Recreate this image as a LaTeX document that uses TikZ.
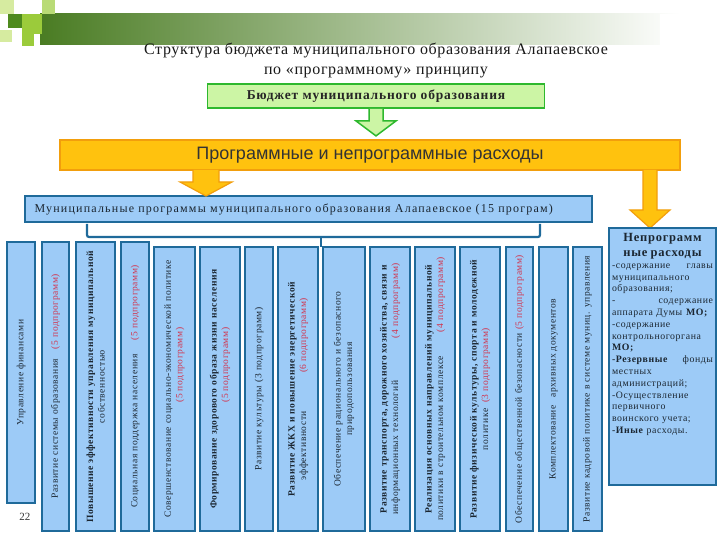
\documentclass[tikz,border=0pt]{standalone}
\usepackage{fontspec}
\setmainfont{Liberation Serif}
\newfontfamily\sansf{Liberation Sans}
\newfontfamily\colf[LetterSpace=6]{Liberation Serif}
\newfontfamily\widef[LetterSpace=10]{Liberation Serif}
\newfontfamily\titlef[LetterSpace=4]{Liberation Serif}
\usetikzlibrary{calc}
\definecolor{hdrgreen}{HTML}{4A7C23}
\definecolor{lime}{HTML}{9BCB3B}
\definecolor{palelime}{HTML}{D6EBA0}
\definecolor{darkgr}{HTML}{4E8A1E}
\definecolor{txt}{HTML}{1B2631}
\definecolor{colfill}{HTML}{9DCBF7}
\definecolor{colline}{HTML}{1F6A9A}
\definecolor{redtxt}{HTML}{D2334D}
\definecolor{greenfill}{HTML}{CCF5A5}
\definecolor{greenline}{HTML}{2EB82E}
\definecolor{orfill}{HTML}{FFC20E}
\definecolor{orline}{HTML}{F29E0C}
\newcommand{\rd}[1]{{\color{redtxt}#1}}
\begin{document}
\begin{tikzpicture}[x=1pt,y=-1pt,
  colbox/.style={draw=colline, fill=colfill, line width=1.8pt, inner sep=2pt, text=txt,
     font=\colf\fontsize{9.5}{11.5}\selectfont, align=center},
  vcol/.style={colbox, rotate=90},
  greenbox/.style={draw=greenline, fill=greenfill, line width=1.8pt, font=\colf\bfseries\fontsize{13.5}{15}\selectfont, text=black!85},
  greenarrow/.style={draw=greenline, fill=greenfill, line width=1.5pt, line join=miter},
  orbar/.style={draw=orline, fill=orfill, line width=1.8pt, font=\sansf\fontsize{18}{20}\selectfont, text=black!80},
  orarrow/.style={draw=orline, fill=orfill, line width=1.2pt, line join=miter},
  bracket/.style={draw=colline, line width=2.2pt, rounded corners=2pt},
  titlestyle/.style={font=\titlef\fontsize{16}{19}\selectfont, text=black!90}
]
\useasboundingbox (0,0) rectangle (720,540);
\fill[white] (0,0) rectangle (720,540);
% header decoration
\shade[left color=hdrgreen, right color=white] (40,14) rectangle (680,45);
\fill[white] (660,14) rectangle (720,45);
\fill[palelime] (0,0) rectangle (14,14);
\fill[darkgr] (8,14) rectangle (22,28);
\fill[lime] (22,14) rectangle (42,34);
\fill[lime!70] (42,0) rectangle (55,14);
\fill[lime] (22,34) rectangle (34,46);
\fill[palelime] (0,30) rectangle (12,42);
% title
\node[titlestyle] (title1) at (376,51) {Структура бюджета муниципального образования Алапаевское};
\node[titlestyle] (title2) at (376,72) {по «программному» принципу};
% budget box
\node[greenbox, minimum width=337, minimum height=24, inner sep=0] (budget) at (376,96) {Бюджет муниципального образования};
% green arrow
\draw[greenarrow] ($(budget.south)+(-7,0)$) -- ++(0,12) -- ++(-13,0) -- ($(budget.south)+(0,27)$) -- ++(20,-15) -- ++(-13,0) -- ++(0,-12);
% orange bar
\node[orbar, minimum width=620, minimum height=30, inner sep=0] (bar) at (370,155) {Программные и непрограммные расходы};
% blue programme box
\node[colbox, minimum width=567, minimum height=26, inner sep=0] (prog) at (308.5,209) {};
\node[anchor=west, text=txt, font=\widef\fontsize{12}{14}\selectfont] (progtxt) at (31,209) {Муниципальные программы муниципального образования Алапаевское (15 програм)};
% orange arrows
\draw[orarrow] (193,170) -- (193,182) -- (180,182) -- (206,196) -- (232,182) -- (219,182) -- (219,170);
\draw[orarrow] (643,170) -- (643,210) -- (630,210) -- (650,228) -- (670,210) -- (657,210) -- (657,170);
% bracket
\coordinate (bl) at (87,224);
\coordinate (br) at (540,224);
\coordinate (bm) at (321,237);
\coordinate (bt) at (321,247);
\draw[bracket] (bl) -- (87,237) -- (540,237) -- (br);
\draw[colline, line width=2.2pt] (bm) -- (bt);
% columns
\node[vcol, minimum width=261, minimum height=28, text width=250] (c1) at (21,372.5) {Управление финансами};
\node[vcol, minimum width=289, minimum height=27, text width=278] (c2) at (55.5,386.5) {Развитие системы образования\hspace{1em}\rd{(5 подпрограмм)}};
\node[vcol, minimum width=289, minimum height=39, text width=278] (c3) at (95.5,386.5) {\textbf{Повышение эффективности управления муниципальной}\\собственностью};
\node[vcol, minimum width=289, minimum height=28, text width=278] (c4) at (135,386.5) {Социальная поддержка населения\hspace{1.5em}\rd{(5 подпрограмм)}};
\node[vcol, minimum width=284, minimum height=41, text width=273] (c5) at (174.5,389) {Совершенствование социально-экономической политике\\\hspace*{5em}\rd{(5 подпрограмм)}};
\node[vcol, minimum width=284, minimum height=40, text width=273] (c6) at (220,389) {\textbf{Формирование здорового образа жизни населения}\\\hspace*{5em}\rd{(5 подпрограмм)}};
\node[vcol, minimum width=284, minimum height=28, text width=273] (c7) at (259,389) {Развитие культуры (3 подпрограмм)};
\node[vcol, minimum width=284, minimum height=40, text width=273] (c8) at (298,389) {\textbf{Развитие ЖКХ и повышение энергетической}\\эффективности\hspace{4em}\rd{(6 подпрограмм)}};
\node[vcol, minimum width=284, minimum height=42, text width=273] (c9) at (344,389) {Обеспечение рационального и безопасного\\природопользования};
\node[vcol, minimum width=284, minimum height=40, text width=273] (c10) at (390,389) {\textbf{Развитие транспорта, дорожного хозяйства, связи и}\\информационных технологий\hspace{4.5em}\rd{(4 подпрограмм)}};
\node[vcol, minimum width=284, minimum height=40, text width=273] (c11) at (435,389) {\textbf{Реализация основных направлений муниципальной}\\политики в строительном комплексе\hspace{2.5em}\rd{(4 подпрограмм)}};
\node[vcol, minimum width=284, minimum height=40, text width=273] (c12) at (480,389) {\textbf{Развитие физической культуры, спорта и молодежной}\\политике\hspace{0.6em}\rd{(3 подпрограмм)}};
\node[vcol, minimum width=284, minimum height=27, text width=273] (c13) at (519.5,389) {Обеспечение общественной безопасности \rd{(5 подпрограмм)}};
\node[vcol, minimum width=284, minimum height=29, text width=273] (c14) at (553.5,389) {Комплектование\hspace{0.8em}архивных документов};
\node[vcol, minimum width=284, minimum height=29, text width=273] (c15) at (587.5,389) {Развитие кадровой политике в системе муниц. управления};
% non-programme box
\node[colbox, minimum width=107, minimum height=257, inner sep=0] (np) at (662.5,356.5) {};
\node[anchor=north, text=txt, text width=101, align=left, inner sep=0,
      font=\colf\fontsize{9.8}{11.8}\selectfont] (nptext) at ($(np.north)+(0,6)$)
  {\centering{\bfseries\fontsize{12.5}{15}\selectfont Непрограмм\\ные расходы\par}
   \raggedright
   -содержание\hfill главы\\
   муниципального\\
   образования;\\
   -\hfill содержание\\
   аппарата Думы \textbf{МО;}\\
   -содержание\\
   контрольногоргана\\
   \textbf{МО;}\\
   \textbf{-Резервные}\hfill фонды\\
   местных\\
   администраций;\\
   -Осуществление\\
   первичного\\
   воинского учета;\\
   \textbf{-Иные} расходы.};
% page number
\node[font=\fontsize{11}{13}\selectfont, text=black!80] (pgno) at (25,517) {22};
\end{tikzpicture}
\end{document}
